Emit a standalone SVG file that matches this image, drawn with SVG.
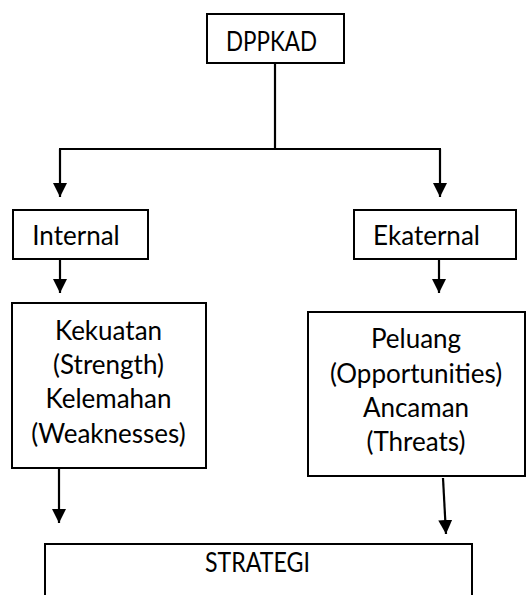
<svg xmlns="http://www.w3.org/2000/svg" width="527" height="595" viewBox="0 0 527 595">
  <style>
    .box { fill: #ffffff; stroke: #000000; stroke-width: 2; }
    .lbl { font-family: Lato, "Liberation Sans", sans-serif; font-size: 26px; fill: #000000; text-anchor: middle; }
    .conn { fill: none; stroke: #000000; stroke-width: 2.2; }
    .arr { marker-end: url(#ah); }
  </style>
  <defs>
    <marker id="ah" markerUnits="userSpaceOnUse" markerWidth="15" markerHeight="15" refX="14" refY="7.5" orient="auto" viewBox="0 0 15 15">
      <path d="M0,0.5 L14,7.5 L0,14.5 Z" fill="#000000"/>
    </marker>
  </defs>
  <rect width="527" height="595" fill="#ffffff"/>

  <g id="connectors">
    <path class="conn" d="M275,63 V149"/>
    <path class="conn" d="M59,149 H441"/>
    <path class="conn arr" d="M60,149 V197"/>
    <path class="conn arr" d="M440,149 V197"/>
    <path class="conn arr" d="M60,259 V293"/>
    <path class="conn arr" d="M439,259 V293"/>
    <path class="conn arr" d="M59,468 V523"/>
    <path class="conn arr" d="M443,478 L446,534"/>
  </g>

  <g id="dppkad">
    <rect class="box" x="207" y="14" width="137" height="49"/>
    <text class="lbl" x="271.5" y="51" textLength="91" lengthAdjust="spacingAndGlyphs">DPPKAD</text>
  </g>

  <g id="internal">
    <rect class="box" x="13" y="210" width="135" height="49"/>
    <text class="lbl" x="76" y="245">Internal</text>
  </g>

  <g id="ekaternal">
    <rect class="box" x="354" y="210" width="162" height="49"/>
    <text class="lbl" x="426.5" y="245">Ekaternal</text>
  </g>

  <g id="kekuatan">
    <rect class="box" x="12" y="303" width="194" height="165"/>
    <text class="lbl" x="108.5" y="340">Kekuatan</text>
    <text class="lbl" x="108.5" y="374">(Strength)</text>
    <text class="lbl" x="108.5" y="408">Kelemahan</text>
    <text class="lbl" x="108.5" y="443">(Weaknesses)</text>
  </g>

  <g id="peluang">
    <rect class="box" x="308" y="312" width="217" height="164"/>
    <text class="lbl" x="416" y="348">Peluang</text>
    <text class="lbl" x="416" y="383">(Opportunities)</text>
    <text class="lbl" x="416" y="417">Ancaman</text>
    <text class="lbl" x="416" y="451">(Threats)</text>
  </g>

  <g id="strategi">
    <rect class="box" x="45" y="544" width="427" height="70"/>
    <text class="lbl" x="257.5" y="572" textLength="105" lengthAdjust="spacingAndGlyphs">STRATEGI</text>
  </g>
</svg>
